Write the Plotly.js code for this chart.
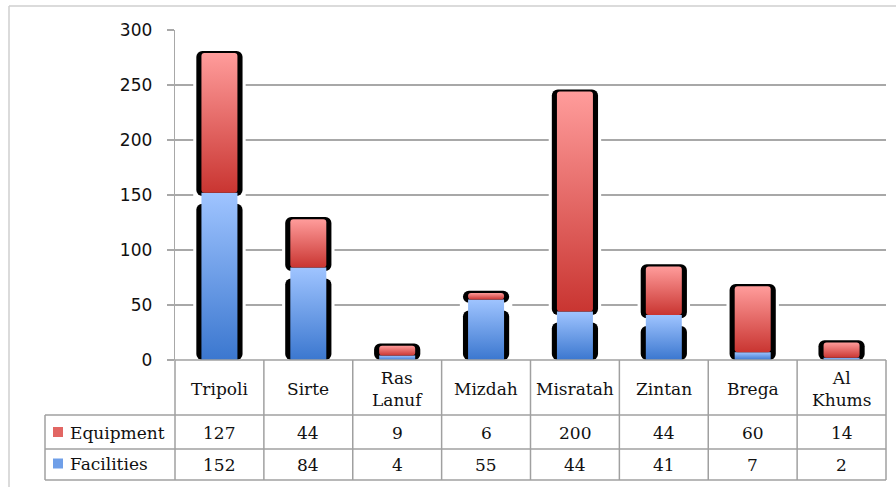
<!DOCTYPE html>
<html>
<head>
<meta charset="utf-8">
<script src="https://cdn.plot.ly/plotly-3.0.1.min.js"></script>
<style>
  html, body { margin: 0; padding: 0; background: #fff; }
  #chart { width: 896px; height: 487px; }
</style>
</head>
<body>
<div id="chart"></div>
<script>
// ---- data ----
const categories = ['Tripoli', 'Sirte', 'Ras Lanuf', 'Mizdah', 'Misratah', 'Zintan', 'Brega', 'Al Khums'];
const categoryLabels = ['Tripoli', 'Sirte', 'Ras<br>Lanuf', 'Mizdah', 'Misratah', 'Zintan', 'Brega', 'Al<br>Khums'];
const seriesNames = ['Equipment', 'Facilities'];
const equipment = [127, 44, 9, 6, 200, 44, 60, 14];
const facilities = [152, 84, 4, 55, 44, 41, 7, 2];
const yTickValues = [0, 50, 100, 150, 200, 250, 300];

// ---- derived (outline / shadow pieces) ----
const totals = categories.map((c, i) => equipment[i] + facilities[i]);
const hasGap = facilities.map((f, i) => f > 20);
const lowerOutline = categories.map((c, i) => hasGap[i] ? facilities[i] - 10 : totals[i] + 2);
const upperBase = facilities.map(f => f - 3);
const upperOutline = categories.map((c, i) => hasGap[i] ? totals[i] + 2 - (facilities[i] - 3) : 0);

const gridColor = '#a8a8a8';
const tableColor = '#a0a0a0';
const serif = 'DejaVu Serif, serif';

// plot area in px (for converting layout decorations)
const L = 175, R = 886, T = 30, B = 360;
const px = x => (x - L) / (R - L);
const py = y => (B - y) / (B - T);

const common = { type: 'bar', x: categories, hoverinfo: 'skip', showlegend: false };
const zeros = categories.map(() => 0);

const traces = [
  Object.assign({}, common, { name: 'halo', base: zeros, y: totals.map(t => t + 3),
    width: 0.59, marker: { color: '#ffffff', cornerradius: 9 } }),
  Object.assign({}, common, { name: 'outline lower', base: zeros, y: lowerOutline,
    width: 0.52, marker: { color: '#000000', cornerradius: 6 } }),
  Object.assign({}, common, { name: 'outline upper', base: upperBase, y: upperOutline,
    width: 0.52, marker: { color: '#000000', cornerradius: 6 } }),
  Object.assign({}, common, { name: seriesNames[1], base: zeros, y: facilities,
    width: 0.405, marker: { color: '#6f9fe8' } }),
  Object.assign({}, common, { name: seriesNames[0], base: facilities, y: equipment,
    width: 0.405, marker: { color: '#e26663', cornerradius: 3 } })
];

const shapes = [];
const annotations = [];
const line = (x0, y0, x1, y1, color, w) => shapes.push({
  type: 'line', xref: 'paper', yref: 'paper', x0: px(x0), y0: py(y0), x1: px(x1), y1: py(y1),
  line: { color: color, width: w }, layer: 'above'
});

// outer frame (top and left)
line(9, 6, 896, 6, '#cfcfcf', 1.5);
line(9, 6, 9, 487, '#cfcfcf', 1.5);

// data table grid
line(L, 360, R, 360, tableColor, 1.5);
line(45, 415, R, 415, tableColor, 1.5);
line(45, 449, R, 449, tableColor, 1.5);
line(45, 480, R, 480, tableColor, 1.5);
line(45, 415, 45, 480, tableColor, 1.5);
line(L, 360, L, 480, tableColor, 1.5);
const colW = (R - L) / categories.length;
for (let i = 1; i <= categories.length; i++) {
  line(L + colW * i, 360, L + colW * i, 480, tableColor, 1.5);
}

// table cells
const cellFont = { family: serif, size: 17, color: '#111' };
categories.forEach((c, i) => {
  annotations.push({ x: c, xref: 'x', y: py(389), yref: 'paper', text: categoryLabels[i], showarrow: false,
    xanchor: 'center', yanchor: 'middle', font: cellFont });
  annotations.push({ x: c, xref: 'x', y: py(432.5), yref: 'paper', text: String(equipment[i]), showarrow: false,
    xanchor: 'center', yanchor: 'middle', font: cellFont });
  annotations.push({ x: c, xref: 'x', y: py(465), yref: 'paper', text: String(facilities[i]), showarrow: false,
    xanchor: 'center', yanchor: 'middle', font: cellFont });
});

// row headers with legend keys
const keyColors = ['#e26663', '#6f9fe8'];
const rowCenters = [432, 463.5];
seriesNames.forEach((n, k) => {
  shapes.push({ type: 'rect', xref: 'paper', yref: 'paper', x0: px(53), x1: px(63),
    y0: py(rowCenters[k] - 5), y1: py(rowCenters[k] + 5), fillcolor: keyColors[k], line: { width: 0 }, layer: 'above' });
  annotations.push({ x: px(68), xref: 'paper', y: py(rowCenters[k] + 0.5), yref: 'paper', text: n, showarrow: false,
    xanchor: 'left', yanchor: 'middle', font: cellFont });
});

const layout = {
  width: 896, height: 487,
  margin: { l: L, r: 896 - R, t: T, b: 487 - B, pad: 0 },
  paper_bgcolor: '#fff', plot_bgcolor: '#fff',
  barmode: 'overlay',
  showlegend: false,
  xaxis: { type: 'category', range: [-0.5, categories.length - 0.5], showticklabels: false,
    ticks: '', showgrid: false, zeroline: false, showline: false, fixedrange: true },
  yaxis: { range: [0, 300], tickvals: yTickValues, ticktext: yTickValues.map(String),
    showgrid: true, gridcolor: gridColor, gridwidth: 1.3, zeroline: false,
    showline: true, linecolor: gridColor, linewidth: 1.3,
    ticks: 'outside', ticklen: 7, tickcolor: gridColor, tickwidth: 1.3, ticklabelstandoff: 11,
    tickfont: { family: 'DejaVu Sans, sans-serif', size: 17, color: '#111' }, fixedrange: true },
  shapes: shapes,
  annotations: annotations
};

Plotly.newPlot('chart', traces, layout, { displayModeBar: false, staticPlot: true }).then(gd => {
  const svg = gd.querySelector('svg.main-svg');
  const defs = svg.querySelector('defs');
  const NS = 'http://www.w3.org/2000/svg';
  const mkGrad = (id, top, bottom) => {
    const g = document.createElementNS(NS, 'linearGradient');
    g.setAttribute('id', id);
    g.setAttribute('x1', '0'); g.setAttribute('y1', '0');
    g.setAttribute('x2', '0'); g.setAttribute('y2', '1');
    [[0, top], [1, bottom]].forEach(([o, c]) => {
      const s = document.createElementNS(NS, 'stop');
      s.setAttribute('offset', String(o));
      s.setAttribute('stop-color', c);
      g.appendChild(s);
    });
    defs.appendChild(g);
  };
  mkGrad('gradRed', '#ff9c9b', '#c93531');
  mkGrad('gradBlue', '#9fc4ff', '#3b77cf');
  const groups = gd.querySelectorAll('.barlayer .trace');
  const apply = (idx, id) => {
    if (!groups[idx]) return;
    groups[idx].querySelectorAll('path').forEach(p => { p.style.fill = 'url(#' + id + ')'; });
  };
  apply(3, 'gradBlue');
  apply(4, 'gradRed');
});
</script>
</body>
</html>
